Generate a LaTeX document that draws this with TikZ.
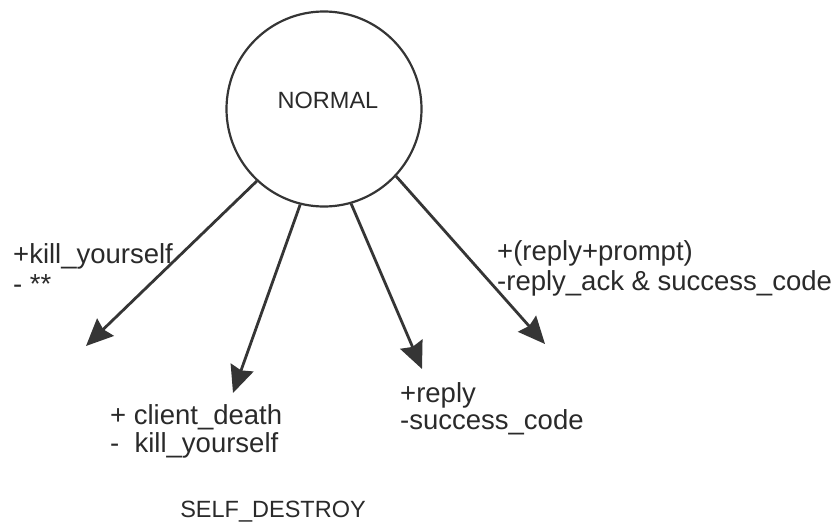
\documentclass[tikz,border=0pt]{standalone}
\usepackage{fontspec}
\setmainfont{Liberation Sans}
\usetikzlibrary{arrows.meta}
\definecolor{ink}{HTML}{353535}
\definecolor{txt}{HTML}{2A2A2A}
\begin{document}
\begin{tikzpicture}[x=1pt,y=-1pt,
  lbl/.style={inner sep=0pt, anchor=base west, text=txt, font=\fontsize{27.5}{30}\selectfont},
  stname/.style={inner sep=0pt, anchor=base, text=txt, font=\fontsize{23.5}{26}\selectfont},
  trans/.style={draw=ink, line width=2.8pt, -{Stealth[length=27pt,width=24pt,inset=3pt]}}]
\useasboundingbox[fill=white] (0,0) rectangle (835,527);

% state NORMAL
\node[circle, draw=ink, line width=2.2pt, minimum size=195pt, inner sep=0pt] (normal) at (324,109) {};
\node[stname] (normaltext) at (328,108) {NORMAL};

% arrow tips (free ends)
\coordinate (t1) at (86,346);
\coordinate (t2) at (233,393);
\coordinate (t3) at (422,369);
\coordinate (t4) at (545,344);

\draw[trans] (normal.-133.7) -- (t1);
\draw[trans] (normal.-104.5) -- (t2);
\draw[trans] (normal.-74.2) -- (t3);
\draw[trans] (normal.-43.8) -- (t4);

% labels
\node[lbl] (k1a) at (13,263) {+kill\_yourself};
\node[lbl] (k1b) at (13,293) {- **};

\node[lbl] (c1) at (110,424) {+ client\_death};
\node[lbl] (c2) at (110,452) {-~~kill\_yourself};

\node[lbl] (r1) at (400,402) {+reply};
\node[lbl] (r2) at (400,429) {-success\_code};

\node[lbl] (p1) at (497,260) {+(reply+prompt)};
\node[lbl] (p2) at (497,290) {-reply\_ack \& success\_code};

\node[stname] (selfd) at (273,517) {SELF\_DESTROY};
\end{tikzpicture}
\end{document}
